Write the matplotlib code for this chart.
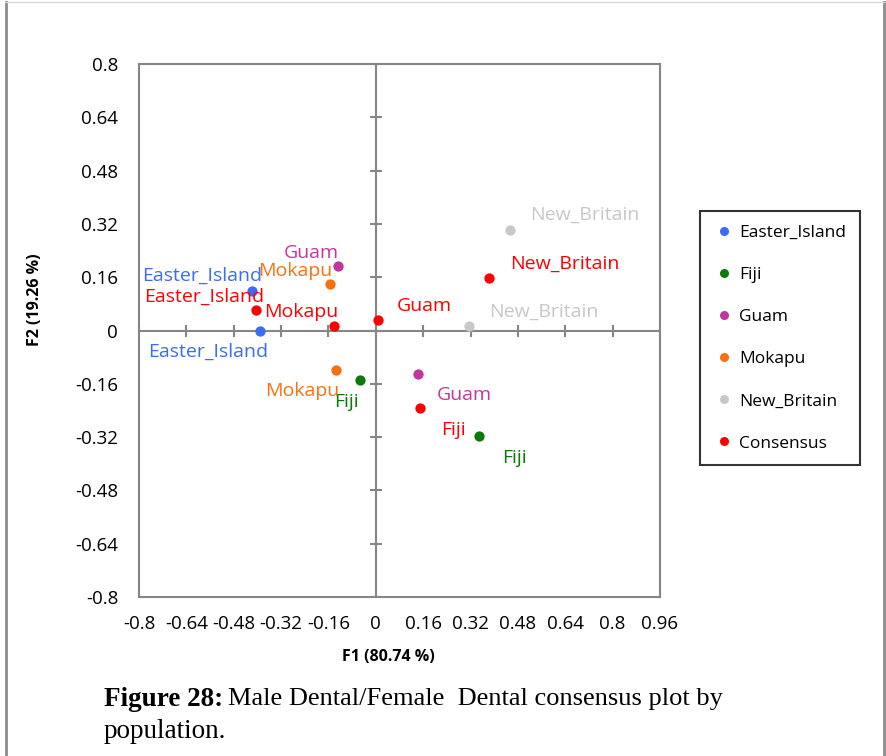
import numpy as np
import matplotlib
matplotlib.use("Agg")
import matplotlib.pyplot as plt
from matplotlib.lines import Line2D

# population scores on the first two factors (two configurations each)
populations = ["Easter_Island", "Fiji", "Guam", "Mokapu", "New_Britain"]
pop_f1 = [[-0.419, -0.392], [-0.055, 0.350], [-0.128, 0.141],
          [-0.156, -0.135], [0.452, 0.316]]
pop_f2 = [[0.119, 0.000], [-0.149, -0.317], [0.195, -0.131],
          [0.141, -0.119], [0.302, 0.014]]

# consensus configuration
cons_f1 = [-0.406, 0.149, 0.006, -0.142, 0.384]
cons_f2 = [0.062, -0.233, 0.032, 0.014, 0.158]

ticks = [-0.8, -0.64, -0.48, -0.32, -0.16, 0, 0.16, 0.32, 0.48, 0.64, 0.8, 0.96]
yticks = [-0.8, -0.64, -0.48, -0.32, -0.16, 0, 0.16, 0.32, 0.48, 0.64, 0.8]
tick_text = ["-0.8", "-0.64", "-0.48", "-0.32", "-0.16", "0", "0.16", "0.32",
             "0.48", "0.64", "0.8", "0.96"]
ytick_text = ["-0.8", "-0.64", "-0.48", "-0.32", "-0.16", "0", "0.16", "0.32",
              "0.48", "0.64", "0.8"]

colors = ["#3a6cf4", "#0b7a0b", "#c4359e", "#f9700f", "#c8c8c8"]
cons_color = "#ff0000"

# label offsets in pixels (dx, dy), per point
pop_offsets = [[(-50, 15), (-52, -21)],
               [(-13, -22), (35, -22)],
               [(-27, 13), (47, -21)],
               [(-34, 13), (-34, -21)],
               [(75, 15), (74, 14)]]
cons_offsets = [(-51, 13), (34, -22), (47, 14), (-33, 14), (75, 14)]

W, H = 886, 756
plt.rcParams['font.family'] = ['Open Sans', 'DejaVu Sans']
fig = plt.figure(figsize=(W / 100, H / 100), dpi=100)

left, right, top, bottom = 139, 660, 64, 597
ax = fig.add_axes([left / W, 1 - bottom / H, (right - left) / W, (bottom - top) / H])
ax.set_xlim(-0.8, 0.96)
ax.set_ylim(-0.8, 0.8)

grey = "#868686"
for s in ax.spines.values():
    s.set_color(grey)
    s.set_linewidth(1.5)

ax.set_xticks(ticks)
ax.set_xticklabels(tick_text, fontsize=13.5)
ax.set_yticks(yticks)
ax.set_yticklabels(ytick_text, fontsize=13.5)
ax.tick_params(length=0)
ax.tick_params(axis='x', pad=13)
ax.tick_params(axis='y', pad=15)

# axes through the origin with crossing tick marks
ax.axhline(0, color=grey, lw=1.5, zorder=1)
ax.axvline(0, color=grey, lw=1.5, zorder=1)
ax.plot(ticks, np.zeros(len(ticks)), linestyle='none', marker='|',
        markersize=9, mew=1.5, color=grey, zorder=1)
ax.plot(np.zeros(len(yticks)), yticks, linestyle='none', marker='_',
        markersize=9, mew=1.5, color=grey, zorder=1)

for name, xs, ys, c, offs in zip(populations, pop_f1, pop_f2, colors, pop_offsets):
    ax.scatter(xs, ys, s=55, color=c, zorder=3, linewidths=0)
    for x, y, (dx, dy) in zip(xs, ys, offs):
        ax.annotate(name, (x, y), xytext=(dx, dy), textcoords='offset pixels',
                    ha='center', va='center', fontsize=14, color=c)

ax.scatter(cons_f1, cons_f2, s=55, color=cons_color, zorder=3, linewidths=0)
for name, x, y, (dx, dy) in zip(populations, cons_f1, cons_f2, cons_offsets):
    ax.annotate(name, (x, y), xytext=(dx, dy), textcoords='offset pixels',
                ha='center', va='center', fontsize=14, color=cons_color)

fig.text(388 / W, 1 - 657 / H, "F1 (80.74 %)", ha='center', va='center',
         fontsize=11.5, fontweight='bold')
fig.text(35 / W, 1 - 300 / H, "F2 (19.26 %)", ha='center', va='center',
         fontsize=11.5, fontweight='bold', rotation=90)

handles = [Line2D([], [], linestyle='none', marker='o', markersize=6.5,
                  markerfacecolor=c, markeredgecolor='none')
           for c in colors + [cons_color]]
leg = fig.legend(handles, populations + ["Consensus"], loc='center',
                 bbox_to_anchor=(780 / W, 1 - 338 / H), frameon=True,
                 fancybox=False, fontsize=12.5, labelspacing=1.5,
                 handletextpad=0.25, handlelength=1.2, borderpad=0.8)
leg.get_frame().set_edgecolor('black')
leg.get_frame().set_linewidth(1.5)

# page frame around the figure
fig.add_artist(Line2D([5.5 / W, 5.5 / W], [0, 1 - 2 / H], color="#8c8c8c", lw=2,
                      transform=fig.transFigure))
fig.add_artist(Line2D([883.5 / W, 883.5 / W], [0, 1 - 2 / H], color="#8c8c8c", lw=2,
                      transform=fig.transFigure))
fig.add_artist(Line2D([5 / W, 884 / W], [1 - 2 / H, 1 - 2 / H], color="#d8d8d8", lw=1,
                      transform=fig.transFigure))

# caption
serif = ['Liberation Serif', 'DejaVu Serif']
fig.text(104 / W, 1 - 699 / H, "Figure 28:", family=serif, fontweight='bold',
         fontsize=19.5, va='center', ha='left')
fig.text(228 / W, 1 - 699 / H, "Male Dental/Female  Dental consensus plot by",
         family=serif, fontsize=19, va='center', ha='left')
fig.text(104 / W, 1 - 731 / H, "population.", family=serif, fontsize=19.5,
         va='center', ha='left')

fig.savefig("out.png", dpi=100)
